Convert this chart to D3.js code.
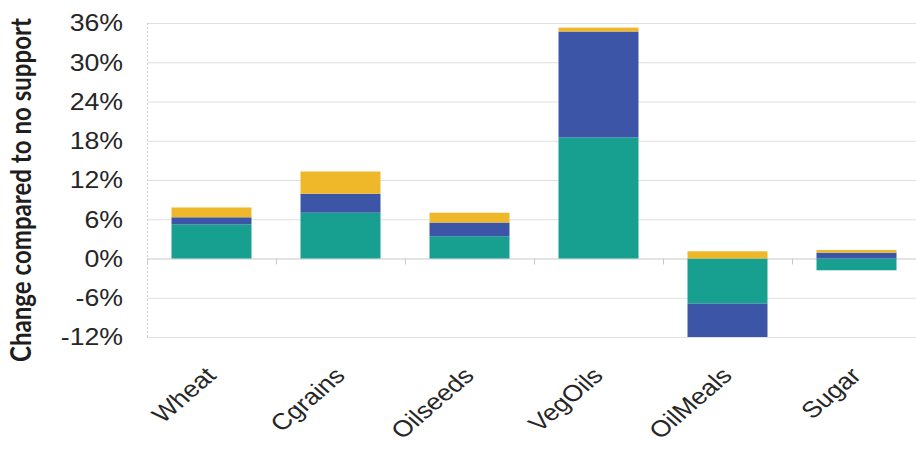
<!DOCTYPE html>
<html>
<head>
<meta charset="utf-8">
<script src="https://cdn.jsdelivr.net/npm/d3@7"></script>
<style>
  body { margin: 0; background: #fff; }
  svg { display: block; }
</style>
</head>
<body>
<div id="chart"></div>
<script>
// commodities on the x axis
var categories = ["Wheat", "Cgrains", "Oilseeds", "VegOils", "OilMeals", "Sugar"];
// three stacked components (teal, blue, yellow), % change vs no support
var seriesNames = ["s1", "s2", "s3"];
var tealVals   = [5.2, 7.0, 3.4, 18.5, -6.9, -1.8];
var blueVals   = [1.1, 2.9, 2.1, 16.2, -5.3, 0.9];
var yellowVals = [1.5, 3.4, 1.5, 0.6, 1.1, 0.4];
var yTicks = [-12, -6, 0, 6, 12, 18, 24, 30, 36];
var colors = ["#17a08f", "#3c55a6", "#efb82a"];

var W = 916, H = 450;
var plot = {left: 147, right: 921, top: 23, bottom: 337};
var sx = 1.16; // the scan is a little wider than tall, text looks stretched

var rows = categories.map(function(c, i) {
  return {cat: c, s1: tealVals[i], s2: blueVals[i], s3: yellowVals[i]};
});

var svg = d3.select("#chart").append("svg")
  .attr("width", W)
  .attr("height", H);

var x = d3.scaleBand()
  .domain(categories)
  .range([plot.left, plot.right])
  .paddingInner(0.38)
  .paddingOuter(0.19);

var y = d3.scaleLinear()
  .domain([-12, 36])
  .range([plot.bottom, plot.top]);

svg.append("defs").append("clipPath").attr("id", "clip")
  .append("rect")
    .attr("x", plot.left).attr("y", plot.top)
    .attr("width", plot.right - plot.left)
    .attr("height", plot.bottom - plot.top);

// gridlines
svg.append("g")
  .selectAll("line")
  .data(yTicks)
  .enter().append("line")
    .attr("x1", plot.left)
    .attr("x2", W)
    .attr("y1", function(d) { return y(d) + 0.5; })
    .attr("y2", function(d) { return y(d) + 0.5; })
    .attr("stroke", function(d) { return d === 0 ? "#c8c8c8" : "#e0e0e0"; })
    .attr("stroke-width", 1);

// left axis line (dotted)
svg.append("line")
  .attr("x1", plot.left + 0.5).attr("x2", plot.left + 0.5)
  .attr("y1", plot.top).attr("y2", plot.bottom)
  .attr("stroke", "#d0d0d0")
  .attr("stroke-dasharray", "2,2");

// small ticks under the zero line between categories
var step = x.step();
var bounds = d3.range(categories.length + 1).map(function(i) { return plot.left + i * step; });
svg.append("g")
  .selectAll("line")
  .data(bounds)
  .enter().append("line")
    .attr("x1", function(d) { return d + 0.5; })
    .attr("x2", function(d) { return d + 0.5; })
    .attr("y1", y(0))
    .attr("y2", y(0) + 6)
    .attr("stroke", "#c8c8c8");

var stacked = d3.stack()
  .keys(seriesNames)
  .offset(d3.stackOffsetDiverging)(rows);

svg.append("g")
  .attr("clip-path", "url(#clip)")
  .selectAll("g")
  .data(stacked)
  .enter().append("g")
    .attr("fill", function(d, i) { return colors[i]; })
  .selectAll("rect")
  .data(function(d) { return d; })
  .enter().append("rect")
    .attr("x", function(d) { return x(d.data.cat); })
    .attr("width", x.bandwidth())
    .attr("y", function(d) { return y(Math.max(d[0], d[1])); })
    .attr("height", function(d) { return Math.abs(y(d[0]) - y(d[1])); });

// y tick labels
svg.append("g")
  .selectAll("text")
  .data(yTicks)
  .enter().append("text")
    .attr("transform", function(d) { return "translate(123," + y(d) + ") scale(" + sx + ",1)"; })
    .attr("dy", "0.36em")
    .attr("text-anchor", "end")
    .attr("font-family", "Liberation Sans, Arial, sans-serif")
    .attr("font-size", 23)
    .attr("fill", "#262626")
    .text(function(d) { return d + "%"; });

// x category labels, rotated
svg.append("g")
  .selectAll("text")
  .data(categories)
  .enter().append("text")
    .attr("transform", function(d) {
      return "translate(" + (x(d) + x.bandwidth() / 2 + 6) + ",377) scale(" + sx + ",1) rotate(-45)";
    })
    .attr("text-anchor", "end")
    .attr("font-family", "Liberation Sans, Arial, sans-serif")
    .attr("font-size", 23)
    .attr("fill", "#262626")
    .text(function(d) { return d; });

// y axis title
var title = svg.append("text")
  .attr("transform", "translate(31,190) scale(" + sx + ",1) rotate(-90)")
  .attr("text-anchor", "middle")
  .attr("font-family", "Lato, sans-serif")
  .attr("font-weight", "bold")
  .attr("font-size", 24)
  .attr("fill", "#1e1e1e")
  .text("Change compared to no support");

// fit title to the length it has in the picture
var len = title.node().getComputedTextLength();
title.attr("font-size", 24 * 344 / len);
</script>
</body>
</html>
